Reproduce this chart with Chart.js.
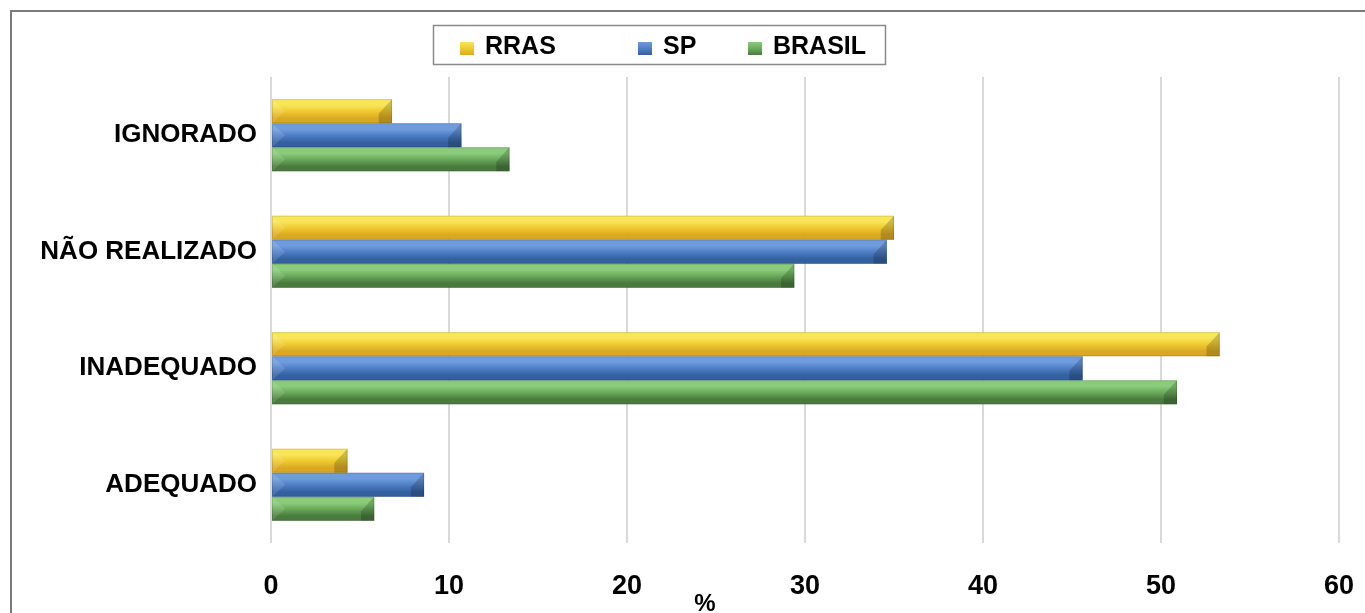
<!DOCTYPE html>
<html>
<head>
<meta charset="utf-8">
<script src="https://cdn.jsdelivr.net/npm/chart.js@4/dist/chart.umd.min.js"></script>
<style>
  html, body { margin: 0; padding: 0; background: #ffffff; }
  #wrap { width: 1365px; height: 613px; }
</style>
</head>
<body>
<div id="wrap"><canvas id="c" width="1365" height="613"></canvas></div>
<script>
// Categories (top to bottom) and the three series, in percent
const categories = ['IGNORADO', 'NÃO REALIZADO', 'INADEQUADO', 'ADEQUADO'];
const rras   = [6.8, 35.0, 53.3, 4.3];
const sp     = [10.7, 34.6, 45.6, 8.6];
const brasil = [13.4, 29.4, 50.9, 5.8];
const seriesNames = ['RRAS', 'SP', 'BRASIL'];
const xTicks = [0, 10, 20, 30, 40, 50, 60];
const axisTitle = '%';

const FONT = '"Liberation Sans", Arial, sans-serif';
const CAT_PCT = 0.62;

// light / base / dark shades for the bevelled bars
const shades = [
  ['#f8e55a', '#f0cb30', '#d9a924'],
  ['#6f9cdc', '#4f7fc6', '#33609f'],
  ['#8acb7c', '#6aab5c', '#4a7a3d']
];

function barFill(ctx) {
  const s = shades[ctx.datasetIndex] || shades[0];
  const chart = ctx.chart;
  const y = chart.scales && chart.scales.y;
  if (ctx.type !== 'data' || !y) return s[1];
  const n = categories.length;
  const band = (y.bottom - y.top) / n * CAT_PCT;
  const h = band / 3;
  const top = y.getPixelForValue(ctx.dataIndex) - band / 2 + ctx.datasetIndex * h;
  if (!Number.isFinite(top) || !Number.isFinite(h) || h <= 0) return s[1];
  const g = chart.ctx.createLinearGradient(0, top, 0, top + h);
  g.addColorStop(0, s[0]);
  g.addColorStop(0.25, s[0]);
  g.addColorStop(0.5, s[1]);
  g.addColorStop(0.8, s[2]);
  g.addColorStop(1, s[2]);
  return g;
}

// Bevel facets on the ends of each bar
const bevelPlugin = {
  id: 'bevel',
  afterDatasetsDraw(chart) {
    const c = chart.ctx;
    chart.data.datasets.forEach((ds, di) => {
      const meta = chart.getDatasetMeta(di);
      meta.data.forEach(el => {
        const { x, y, base, height } = el.getProps(['x', 'y', 'base', 'height'], true);
        const t = y - height / 2, b = y + height / 2, d = height * 0.55;
        c.save();
        // right end: dark lower facet
        c.fillStyle = 'rgba(0,0,0,0.18)';
        c.beginPath();
        c.moveTo(x, t); c.lineTo(x, b); c.lineTo(x - d, b); c.lineTo(x - d, y + height * 0.1);
        c.closePath(); c.fill();
        // left end: light facet
        c.fillStyle = 'rgba(255,255,255,0.12)';
        c.beginPath();
        c.moveTo(base, t); c.lineTo(base + d, y); c.lineTo(base, b);
        c.closePath(); c.fill();
        // thin outline
        c.strokeStyle = 'rgba(0,0,0,0.12)';
        c.lineWidth = 1;
        c.strokeRect(base + 0.5, t + 0.5, x - base - 1, height - 1);
        c.restore();
      });
    });
  }
};

// Outer frame, boxed legend and the axis unit
const decorPlugin = {
  id: 'decor',
  afterDraw(chart) {
    const c = chart.ctx;
    c.save();
    // frame
    c.strokeStyle = '#7a7a7a';
    c.lineWidth = 2;
    c.beginPath();
    c.moveTo(11, 613); c.lineTo(11, 11); c.lineTo(1365, 11);
    c.stroke();

    // legend box
    c.strokeStyle = '#8a8a8a';
    c.lineWidth = 1.5;
    c.strokeRect(433.5, 25.5, 452, 39);
    const boxX = [460, 638, 748];
    c.font = 'bold 25px ' + FONT;
    c.textBaseline = 'middle';
    c.textAlign = 'left';
    seriesNames.forEach((name, i) => {
      const s = shades[i];
      const g = c.createLinearGradient(0, 42, 0, 55);
      g.addColorStop(0, s[0]); g.addColorStop(0.5, s[1]); g.addColorStop(1, s[2]);
      c.fillStyle = g;
      c.fillRect(boxX[i], 42, 14, 13);
      c.fillStyle = '#000000';
      c.fillText(name, boxX[i] + 25, 47);
    });

    // axis unit
    c.font = 'bold 24px ' + FONT;
    c.textAlign = 'center';
    c.textBaseline = 'top';
    c.fillText(axisTitle, 705, 592);
    c.restore();
  }
};

const barStyle = { backgroundColor: barFill, borderWidth: 0, barPercentage: 1, categoryPercentage: CAT_PCT };

new Chart(document.getElementById('c'), {
  type: 'bar',
  data: {
    labels: categories,
    datasets: [
      Object.assign({ label: seriesNames[0], data: rras }, barStyle),
      Object.assign({ label: seriesNames[1], data: sp }, barStyle),
      Object.assign({ label: seriesNames[2], data: brasil }, barStyle)
    ]
  },
  options: {
    indexAxis: 'y',
    responsive: false,
    animation: false,
    layout: { padding: { top: 77, right: 0, bottom: 0, left: 0 } },
    plugins: {
      colors: { enabled: false },
      legend: { display: false },
      tooltip: { enabled: false }
    },
    scales: {
      x: {
        min: 0,
        max: 60,
        afterBuildTicks(scale) { scale.ticks = xTicks.map(v => ({ value: v })); },
        afterFit(scale) {
          scale.height = 70;
          scale.paddingLeft = 0;
          scale.paddingRight = 26;
        },
        border: { display: false },
        grid: { color: '#d9d9d9', lineWidth: 2, drawTicks: false },
        ticks: {
          padding: 27,
          color: '#000000',
          font: { family: FONT, size: 27, weight: 'bold' }
        }
      },
      y: {
        afterFit(scale) { scale.width = 271; },
        border: { display: false },
        grid: { display: false, drawTicks: false },
        ticks: {
          padding: 14,
          color: '#000000',
          font: { family: FONT, size: 26, weight: 'bold' }
        }
      }
    }
  },
  plugins: [bevelPlugin, decorPlugin]
});
</script>
</body>
</html>
